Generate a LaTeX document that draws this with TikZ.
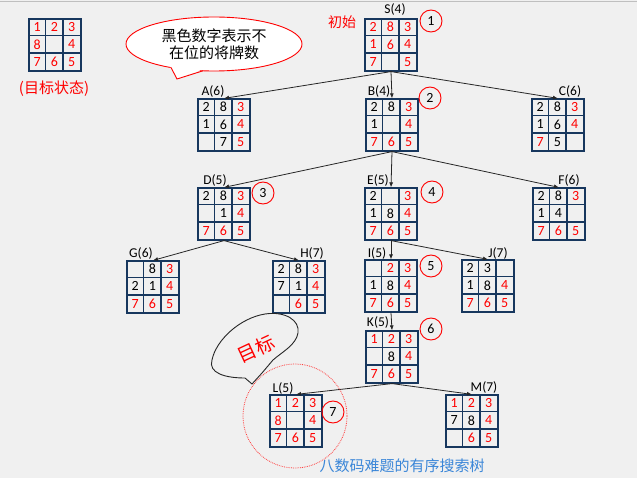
\documentclass[tikz,border=0pt]{standalone}
\usepackage{fontspec}
\setmainfont{Carlito}
\newfontfamily\cjk{Noto Sans CJK SC}
\usetikzlibrary{calc,arrows.meta,shapes.geometric}
\definecolor{bg}{RGB}{240,240,240}
\definecolor{navy}{RGB}{23,55,94}
\definecolor{R}{RGB}{255,0,0}
\definecolor{K}{RGB}{0,0,0}
\definecolor{capblue}{RGB}{58,134,216}
\tikzset{
  gridbox/.style={draw=navy, line width=1.2pt, minimum size=52pt, inner sep=0pt},
  gridline/.style={draw=navy, line width=1.2pt},
  digit/.style={inner sep=0pt, font=\fontsize{14}{14}\selectfont},
  lbl/.style={inner sep=0pt, font=\fontsize{13.5}{14}\selectfont},
  edge/.style={draw=black!85, line width=0.8pt, -{Latex[length=5pt,width=4pt]}},
  circnum/.style={circle, draw=R, line width=0.9pt, minimum size=22pt, inner sep=0pt, font=\fontsize{14}{14}\selectfont}
}
\newcommand\puzzle[4]{%
  \node[gridbox] (#1) at (#2,#3) {};
  \foreach \k in {1,2} {
    \draw[gridline] ($(#1.north west)+(\k*52/3,0)$) -- ++(0,52);
    \draw[gridline] ($(#1.north west)+(0,\k*52/3)$) -- ++(52,0);
  }
  \foreach \col/\d [count=\i from 0] in {#4} {
    \pgfmathtruncatemacro\rr{\i/3}
    \pgfmathtruncatemacro\cc{mod(\i,3)}
    \node[digit,text=\col] at ($(#1.north west)+(\cc*52/3+26/3,\rr*52/3+26/3)$) {\d};
  }
}
\begin{document}
\begin{tikzpicture}[x=1pt,y=-1pt]
\fill[bg] (0,0) rectangle (637,478);
\useasboundingbox (0,0) rectangle (637,478);
\draw[black!25, line width=0.8pt] (0,1) -- (637,1);

% goal state
\puzzle{goal}{55}{45}{R/1,R/2,R/3,R/8,K/{},R/4,R/7,R/6,R/5}
\node[inner sep=0pt, text=R, font=\cjk\fontsize{15}{15}\selectfont] (goaltxt) at (54,89) {(目标状态)};

% callout
\node[ellipse, draw=R, fill=white, line width=0.9pt, minimum width=176pt, minimum height=54pt, inner sep=0pt] (call) at (214,44) {};
\fill[white] (170,66) -- (177,79) -- (204,69) -- cycle;
\draw[R, line width=0.9pt] (171,67.5) -- (177,79) -- (203,70.8);
\node[align=center, inner sep=0pt, font=\cjk\fontsize{15}{17}\selectfont] (calltxt) at (214,44) {黑色数字表示不\\在位的将牌数};

% tree
\puzzle{S}{391}{45}{R/2,R/8,R/3,R/1,R/6,R/4,R/7,K/{},R/5}
\puzzle{A}{224}{125}{K/2,K/8,R/3,K/1,K/6,R/4,K/{},K/7,R/5}
\puzzle{B}{392}{125}{K/2,K/8,R/3,K/1,K/{},R/4,R/7,R/6,R/5}
\puzzle{C}{558}{125}{K/2,K/8,R/3,K/1,K/6,R/4,R/7,K/5,K/{}}
\puzzle{D}{224}{214}{K/2,K/8,R/3,K/{},K/1,R/4,R/7,R/6,R/5}
\puzzle{E}{391}{214}{K/2,K/{},R/3,K/1,K/8,R/4,R/7,R/6,R/5}
\puzzle{F}{559}{214}{K/2,K/8,R/3,K/1,K/4,K/{},R/7,R/6,R/5}
\puzzle{G}{153}{287}{K/{},K/8,R/3,K/2,K/1,R/4,R/7,R/6,R/5}
\puzzle{H}{299}{287}{K/2,K/8,R/3,K/7,K/1,R/4,K/{},R/6,R/5}
\puzzle{I}{391}{286}{K/{},R/2,R/3,K/1,K/8,R/4,R/7,R/6,R/5}
\puzzle{J}{488}{286}{K/2,K/3,K/{},K/1,K/8,R/4,R/7,R/6,R/5}
\puzzle{Kn}{392}{357}{R/1,R/2,R/3,K/{},K/8,R/4,R/7,R/6,R/5}
\puzzle{L}{296}{421}{R/1,R/2,R/3,R/8,K/{},R/4,R/7,R/6,R/5}
\puzzle{M}{472}{421}{R/1,R/2,R/3,K/7,K/8,R/4,K/{},R/6,R/5}

% labels
\node[lbl] (lS) at (395,10) {S(4)};
\node[lbl] (lA) at (213,92) {A(6)};
\node[lbl] (lB) at (379,92) {B(4)};
\node[lbl] (lC) at (570,92) {C(6)};
\node[lbl] (lD) at (215,181) {D(5)};
\node[lbl] (lE) at (378,181) {E(5)};
\node[lbl] (lF) at (569,181) {F(6)};
\node[lbl] (lG) at (141,253) {G(6)};
\node[lbl] (lH) at (312,253) {H(7)};
\node[lbl] (lI) at (377,253) {I(5)};
\node[lbl] (lJ) at (498,253) {J(7)};
\node[lbl] (lK) at (378,322) {K(5)};
\node[lbl] (lL) at (283,388) {L(5)};
\node[lbl] (lM) at (484,387) {M(7)};

\node[inner sep=0pt, text=R, font=\cjk\fontsize{14}{14}\selectfont] (init) at (342,22) {初始};

% circled numbers
\node[circnum] (c1) at (431,21) {1};
\node[circnum] (c2) at (430,98) {2};
\node[circnum] (c3) at (263,193) {3};
\node[circnum] (c4) at (432,192) {4};
\node[circnum] (c5) at (431,266) {5};
\node[circnum] (c6) at (431,329) {6};
\node[circnum] (c7) at (333,412) {7};

% edges
\draw[edge] (S.south) -- (A.north);
\draw[edge] (S.south) -- (B.north);
\draw[edge] (S.south) -- (C.north);
\draw[edge] (B.south) -- (D.north);
\draw[edge] (B.south) -- (E.north);
\draw[edge] (B.south) -- (F.north);
\draw[edge] (D.south) -- (G.north);
\draw[edge] (D.south) -- (H.north);
\draw[edge] (E.south) -- (I.north);
\draw[edge] (E.south) -- (J.north);
\draw[edge] (I.south) -- (Kn.north);
\draw[edge] (Kn.south) -- (L.north);
\draw[edge] (Kn.south) -- (M.north);

% goal highlight circle
\node[circle, draw=R!75, densely dotted, line width=0.8pt, minimum size=104pt, inner sep=0pt] (hl) at (295,416) {};

% "目标" bubble
\draw[black!85, fill=bg, line width=0.9pt] (245,378) .. controls (225,378) and (208,373) .. (212,360)
  .. controls (216,340) and (240,318) .. (265,314)
  .. controls (285,311) and (300,320) .. (298,333)
  .. controls (296,345) and (282,352) .. (273,360)
  -- (262,373) -- (252,384) -- cycle;
\node[rotate=25, inner sep=0pt, text=R, font=\cjk\fontsize{19}{19}\selectfont] (goalword) at (256,349) {目标};

% caption
\node[inner sep=0pt, text=capblue, font=\cjk\fontsize{15}{15}\selectfont] (cap) at (402,466) {八数码难题的有序搜索树};
\end{tikzpicture}
\end{document}
